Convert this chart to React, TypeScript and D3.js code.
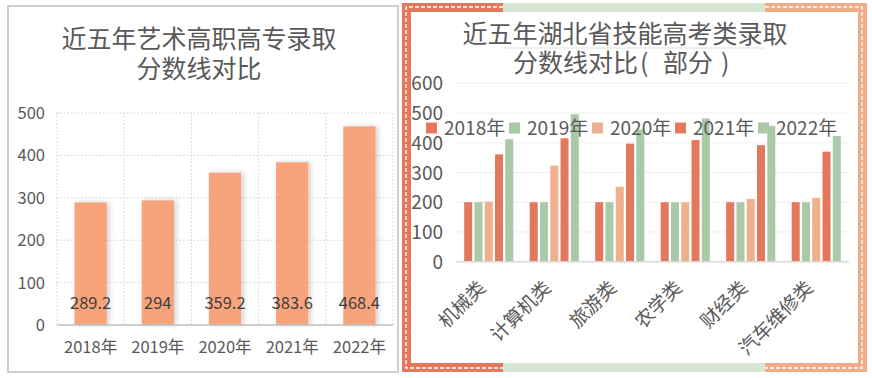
import React from 'react';
import * as d3 from 'd3';

const leftYears = ['2018年', '2019年', '2020年', '2021年', '2022年'];
const leftValues = [289.2, 294, 359.2, 383.6, 468.4];
const leftTicks = [0, 100, 200, 300, 400, 500];

const categories = ['机械类', '计算机类', '旅游类', '农学类', '财经类', '汽车维修类'];
const seriesNames = ['2018年', '2019年', '2020年', '2021年', '2022年'];
const s2018 = [200, 200, 200, 200, 200, 200];
const s2019 = [200, 200, 200, 200, 200, 200];
const s2020 = [202, 323, 252, 200, 211, 215];
const s2021 = [361, 415, 397, 409, 392, 370];
const s2022 = [412, 496, 445, 482, 457, 423];
const rightTicks = [0, 100, 200, 300, 400, 500, 600];

const seriesValues = [s2018, s2019, s2020, s2021, s2022];
const seriesColors = ['#E2785C', '#AAC9A9', '#EFB18D', '#E2785C', '#AAC9A9'];

const FONT = '"Noto Sans CJK SC", "Noto Sans", sans-serif';
const TEXT = '#595959';

export default function App() {
  // Left chart scales
  const lx = d3.scaleBand<string>().domain(leftYears).range([57, 393]).paddingInner(0.52).paddingOuter(0.26);
  const lxGrid = d3.scaleBand<string>().domain(leftYears).range([57, 393]);
  const ly = d3.scaleLinear().domain([0, 500]).range([325, 113]);

  // Right chart scales
  const rx = d3.scaleBand<string>().domain(categories).range([456, 849]).paddingInner(0.25).paddingOuter(0.125);
  const rxi = d3.scaleBand<string>().domain(seriesNames).range([0, rx.bandwidth()]).paddingInner(0.22);
  const ry = d3.scaleLinear().domain([0, 600]).range([261.7, 83.3]);

  const legendX0 = 426;
  const legendStep = 83;

  return (
    <svg width={872} height={378} style={{ position: 'absolute', left: 0, top: 0, background: '#fff' }} fontFamily={FONT}>
      <defs>
        <filter id="shadow" x="-30%" y="-10%" width="160%" height="130%">
          <feDropShadow dx="2.5" dy="0" stdDeviation="2.5" floodColor="#000" floodOpacity="0.18" />
        </filter>
      </defs>
      <rect x={0} y={0} width={872} height={378} fill="#fff" />

      {/* ===== Left panel ===== */}
      <rect x={8} y={6} width={390} height={366} fill="none" stroke="#BFBFBF" strokeWidth={1.5} />
      <text x={199} y={47.5} textAnchor="middle" fontSize={25} fill={TEXT}>近五年艺术高职高专录取</text>
      <text x={199} y={77.5} textAnchor="middle" fontSize={25} fill={TEXT}>分数线对比</text>

      {leftTicks.map(t => (
        <g key={'lg' + t}>
          {t > 0 && (
            <line x1={57} x2={393} y1={ly(t)} y2={ly(t)} stroke="#D0D0D0" strokeWidth={1} strokeDasharray="1.5,2" />
          )}
          <text x={45} y={ly(t) + 6} textAnchor="end" fontSize={16.5} fill={TEXT}>{t}</text>
        </g>
      ))}
      {leftYears.map(y => (
        <line key={'lv' + y} x1={lxGrid(y)!} x2={lxGrid(y)!} y1={113} y2={325} stroke="#D0D0D0" strokeWidth={1} strokeDasharray="1.5,2" />
      ))}
      <line x1={393} x2={393} y1={113} y2={325} stroke="#D0D0D0" strokeWidth={1} strokeDasharray="1.5,2" />

      {leftYears.map((y, i) => (
        <rect key={'lb' + y} x={lx(y)!} y={ly(leftValues[i])} width={lx.bandwidth()} height={ly(0) - ly(leftValues[i])} fill="#F7A47C" filter="url(#shadow)" />
      ))}
      <line x1={57} x2={393} y1={325} y2={325} stroke="#BFBFBF" strokeWidth={1.3} />
      {leftYears.map((y, i) => (
        <text key={'lvl' + y} x={lx(y)! + lx.bandwidth() / 2} y={309} textAnchor="middle" fontSize={16.5} fill="#404040">{leftValues[i]}</text>
      ))}
      {leftYears.map(y => (
        <text key={'lxl' + y} x={lx(y)! + lx.bandwidth() / 2} y={353} textAnchor="middle" fontSize={16.5} fill={TEXT}>{y}</text>
      ))}

      {/* ===== Right panel ===== */}
      <path d="M503,7.5 H406.5 V367.5 H503" fill="none" stroke="#E2785C" strokeWidth={9} />
      <path d="M503,7.5 H765 M503,367.5 H765" fill="none" stroke="#D6E6D3" strokeWidth={9} />
      <path d="M765,7.5 H862.5 V367.5 H765" fill="none" stroke="#F0AC88" strokeWidth={9} />
      <path d="M503,7 H406 V368 H503" fill="none" stroke="#fff" strokeWidth={1.3} strokeDasharray="4,2" />
      <path d="M765,7 H862 V368 H765" fill="none" stroke="#fff" strokeWidth={1.3} strokeDasharray="4,2" />

      <text x={625} y={42.5} textAnchor="middle" fontSize={25} fill={TEXT}>近五年湖北省技能高考类录取</text>
      <line x1={503} x2={765} y1={48} y2={48} stroke="#D6E6D3" strokeWidth={1.2} />
      <text y={72} fontSize={25} fill={TEXT}>
        <tspan x={513}>分数线对比</tspan>
        <tspan x={640}>(</tspan>
        <tspan x={663}>部分</tspan>
        <tspan x={721}>)</tspan>
      </text>

      {rightTicks.map(t => (
        <g key={'rg' + t}>
          {t > 0 && (
            <line x1={456} x2={849} y1={ry(t)} y2={ry(t)} stroke="#EFEFEF" strokeWidth={1} />
          )}
          <text x={443} y={ry(t) + 7} textAnchor="end" fontSize={19} fill={TEXT}>{t}</text>
        </g>
      ))}

      {categories.map((c, ci) => (
        <g key={'rb' + c} transform={`translate(${rx(c)},0)`}>
          {seriesNames.map((s, si) => (
            <rect key={s} x={rxi(s)!} y={ry(seriesValues[si][ci])} width={rxi.bandwidth()} height={ry(0) - ry(seriesValues[si][ci])} fill={seriesColors[si]} />
          ))}
        </g>
      ))}
      <line x1={456} x2={849} y1={ry(0)} y2={ry(0)} stroke="#D9D9D9" strokeWidth={1.5} />

      {categories.map(c => {
        const cx = rx(c)! + rx.bandwidth() / 2 - 2;
        const cy = 289;
        return (
          <text key={'rxl' + c} x={cx} y={cy} textAnchor="end" fontSize={19} fill={TEXT} transform={`rotate(-45 ${cx} ${cy})`}>{c}</text>
        );
      })}

      {/* legend */}
      {seriesNames.map((s, i) => {
        const x = legendX0 + i * legendStep;
        return (
          <g key={'lgd' + s}>
            <rect x={x} y={122.5} width={11} height={11} fill={seriesColors[i]} />
            <text x={x + 18} y={135} fontSize={19} fill={TEXT}>{s}</text>
          </g>
        );
      })}
    </svg>
  );
}
